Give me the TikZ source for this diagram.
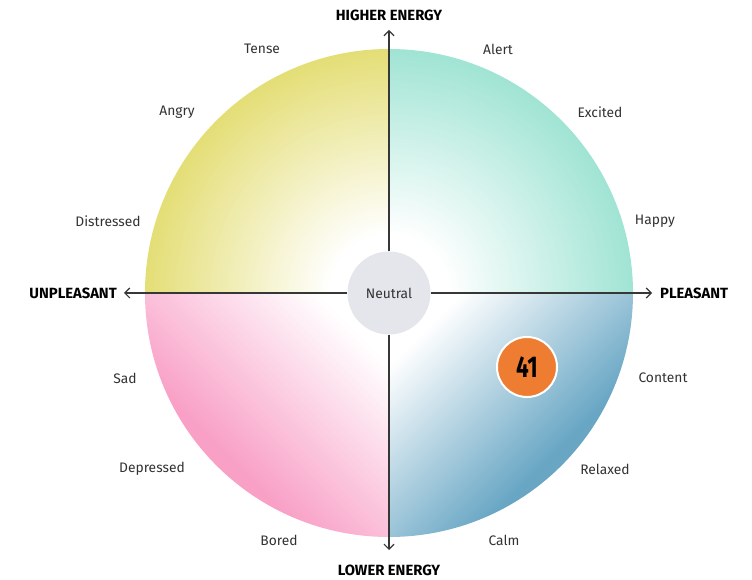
\documentclass[tikz,border=0pt]{standalone}
\usepackage{fontspec}
\setmainfont{Fira Sans}
\usepackage{xcolor}
\usepackage{tikz}
\usetikzlibrary{arrows.meta,positioning}
\definecolor{yellowink}{RGB}{228,222,118}
\definecolor{tealink}{RGB}{160,228,212}
\definecolor{pinkink}{RGB}{249,160,199}
\definecolor{blueink}{RGB}{104,166,196}
\definecolor{neutralgray}{RGB}{228,230,235}
\definecolor{moodorange}{RGB}{238,125,50}
\definecolor{axisink}{RGB}{55,55,55}
\definecolor{textink}{RGB}{50,50,50}
\pgfdeclareradialshading{yellowfade}{\pgfpoint{0bp}{0bp}}{color(0bp)=(white); color(6bp)=(white); color(25bp)=(yellowink); color(50bp)=(yellowink)}
\pgfdeclareradialshading{tealfade}{\pgfpoint{0bp}{0bp}}{color(0bp)=(white); color(6bp)=(white); color(25bp)=(tealink); color(50bp)=(tealink)}
\pgfdeclareverticalshading{pinkfade}{100bp}{color(0bp)=(pinkink); color(38bp)=(pinkink); color(75bp)=(white); color(100bp)=(white)}
\pgfdeclareverticalshading{bluefade}{100bp}{color(0bp)=(blueink); color(38bp)=(blueink); color(75bp)=(white); color(100bp)=(white)}

\begin{document}
\begin{tikzpicture}[x=1pt,y=1pt,
    mood/.style={font=\fontsize{13.8}{16}\selectfont, text=textink},
    axislabel/.style={font=\fontsize{14.8}{17}\selectfont\bfseries, text=black, inner sep=0pt},
    axisline/.style={axisink, line width=1.2pt, -{Straight Barb[length=5pt,width=10pt]}}]
    \useasboundingbox (-389,-287) rectangle (363,293);

    % Quadrants
    \begin{scope}
        \clip (0,0) rectangle (-244,244);
        \shade[shading=yellowfade] (0,0) circle (244);
    \end{scope}
    \begin{scope}
        \clip (0,0) rectangle (244,244);
        \shade[shading=tealfade] (0,0) circle (244);
    \end{scope}
    \shade[shading=pinkfade, shading angle=-45]
        (0,0) -- (-244,0) arc[start angle=180, end angle=270, radius=244] -- cycle;
    \shade[shading=bluefade, shading angle=45]
        (0,0) -- (0,-244) arc[start angle=270, end angle=360, radius=244] -- cycle;

    % Neutral centre
    \node[circle,
          fill=neutralgray,
          minimum size=83pt,
          inner sep=0pt,
          mood] (neutral) at (0,0) {Neutral};

    % Axes
    \coordinate (up) at (0,263);
    \coordinate (down) at (0,-257);
    \coordinate (west) at (-265,0);
    \coordinate (east) at (263,0);
    \draw[axisline] (neutral) -- (up);
    \draw[axisline] (neutral) -- (down);
    \draw[axisline] (neutral) -- (west);
    \draw[axisline] (neutral) -- (east);
    \node[axislabel, above=9pt of up] (higher) {HIGHER ENERGY};
    \node[axislabel, below=15pt of down] (lower) {LOWER ENERGY};
    \node[axislabel, left=7pt of west] (unpleasant) {UNPLEASANT};
    \node[axislabel, right=8pt of east] (pleasant) {PLEASANT};

    % Moods round the rim
    \foreach \x/\y/\word in {-127/244/Tense, 109/244/Alert,
                             -212/181/Angry, 211/181/Excited,
                             -281/72/Distressed, 266/72/Happy,
                             -264/-85/Sad, 274/-85/Content,
                             -237/-176/Depressed, 216/-176/Relaxed,
                             -110/-247/Bored, 115/-247/Calm}
        \node[mood] (\word) at (\x,\y) {\word};

    % Score
    \node[circle,
          fill=moodorange,
          draw=white,
          line width=2pt,
          minimum size=60pt,
          inner sep=0pt,
          font=\fontsize{30}{32}\selectfont\bfseries] (score) at (138,-74) {\scalebox{0.75}[1]{41}};
\end{tikzpicture}
\end{document}
